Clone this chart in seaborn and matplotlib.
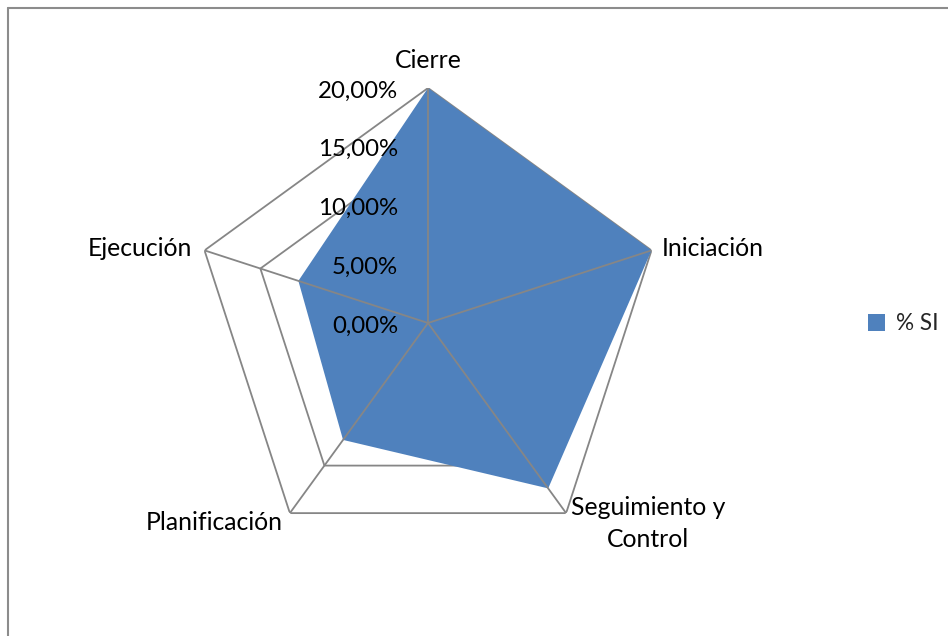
import numpy as np
import matplotlib
matplotlib.use("Agg")
import matplotlib.pyplot as plt
import seaborn as sns
from matplotlib.lines import Line2D

categories = ["Cierre", "Iniciación", "Seguimiento y\nControl", "Planificación", "Ejecución"]
values = [20.0, 20.0, 17.4, 12.3, 11.6]
ring_levels = [0, 5, 10, 15, 20]
ring_labels = ["0,00%", "5,00%", "10,00%", "15,00%", "20,00%"]
series_name = "% SI"

sns.set_theme(style="white")
plt.rcParams['font.family'] = ['Lato', 'DejaVu Sans']

fill_color = "#4F81BD"
grid_color = "#868686"
fs = 17.8

fig = plt.figure(figsize=(9.48, 6.36), dpi=100)
ax = fig.add_axes([193/948, 78/636, 470/948, 470/636], projection="polar")
ax.set_theta_offset(np.pi / 2)
ax.set_theta_direction(-1)

n = len(categories)
angles = np.linspace(0, 2 * np.pi, n, endpoint=False)
closed_angles = np.concatenate([angles, angles[:1]])

# rings (below fill)
for lvl in ring_levels[1:]:
    ax.plot(closed_angles, [lvl] * (n + 1), color=grid_color, lw=1.3, zorder=1)

# data fill
vals_closed = values + values[:1]
ax.fill(closed_angles, vals_closed, color=fill_color, zorder=2, label=series_name, lw=0)

# spokes (above fill)
for a in angles:
    ax.plot([a, a], [0, ring_levels[-1]], color=grid_color, lw=1.3, zorder=3)

ax.set_ylim(0, ring_levels[-1])
ax.set_xticks([])
ax.set_yticks([])
ax.grid(False)
ax.spines['polar'].set_visible(False)
ax.set_facecolor("none")

# radial tick labels
for lvl, lab in zip(ring_levels, ring_labels):
    ax.annotate(lab, xy=(0, lvl), xytext=(-30, -3), textcoords="offset pixels",
                ha="right", va="center", fontsize=fs - 0.5, color="black", zorder=4)

# category labels
offsets = [(0, 16, "center", "bottom"),
           (10, 2, "left", "center"),
           (5, 17, "left", "top"),
           (-7, -9, "right", "center"),
           (-12, 2, "right", "center")]
for a, cat, (dx, dy, ha, va) in zip(angles, categories, offsets):
    ax.annotate(cat, xy=(a, ring_levels[-1]), xytext=(dx, dy), textcoords="offset pixels",
                ha=ha, va=va, fontsize=fs, color="black", multialignment="center",
                linespacing=1.45, annotation_clip=False)

leg = fig.legend(loc="center left", bbox_to_anchor=(859/948, 1 - 324/636), frameon=False,
                 fontsize=fs - 1.5, handlelength=0.75, handleheight=0.75, handletextpad=0.5,
                 borderaxespad=0)

# outer frame (left and top edges visible)
fig.add_artist(Line2D([8/948, 8/948], [0, 1 - 8/636], transform=fig.transFigure,
                      color="#8c8c8c", lw=1.5))
fig.add_artist(Line2D([8/948, 1], [1 - 8/636, 1 - 8/636], transform=fig.transFigure,
                      color="#8c8c8c", lw=1.5))

fig.savefig("out.png", dpi=100, facecolor="white")
